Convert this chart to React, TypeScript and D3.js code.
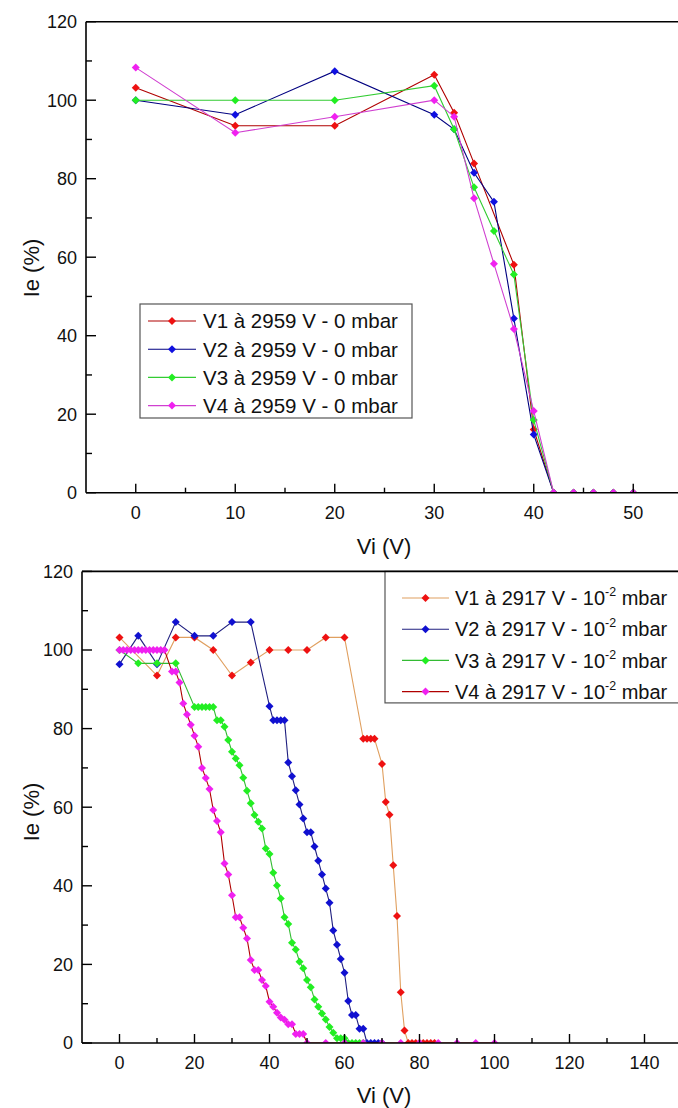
import React from "react";
import * as d3 from "d3";

type Pt = [number, number];

// ---------- Top chart data (0 mbar) ----------
const topV1: Pt[] = [[0,103.2],[10,93.5],[20,93.5],[30,106.5],[32,96.8],[34,83.9],[38,58.1],[40,16.1],[42,0],[44,0],[46,0],[48,0],[50,0]];
const topV2: Pt[] = [[0,100],[10,96.3],[20,107.4],[30,96.3],[32,92.6],[34,81.5],[36,74.1],[38,44.4],[40,14.8],[42,0],[44,0],[46,0],[48,0],[50,0]];
const topV3: Pt[] = [[0,100],[10,100],[20,100],[30,103.7],[32,92.6],[34,77.8],[36,66.7],[38,55.6],[40,18.5],[42,0],[44,0],[46,0],[48,0],[50,0]];
const topV4: Pt[] = [[0,108.3],[10,91.7],[20,95.8],[30,100],[32,95.8],[34,75],[36,58.3],[38,41.7],[40,20.8],[42,0],[44,0],[46,0],[48,0],[50,0]];
const topLabels = ["V1 à 2959 V - 0 mbar","V2 à 2959 V - 0 mbar","V3 à 2959 V - 0 mbar","V4 à 2959 V - 0 mbar"];
const topXTicks = [0,10,20,30,40,50];
const topXMinor = [-5,5,15,25,35,45];

// ---------- Bottom chart data (10^-2 mbar) ----------
const botV1: Pt[] = [[0,103.2],[10,93.5],[15,103.2],[20,103.2],[25,100],[30,93.5],[35,96.8],[40,100],[45,100],[50,100],[55,103.2],[60,103.2],[65,77.4],[66,77.4],[67,77.4],[68,77.4],[70,71],[71,61.3],[72,58.1],[73,45.2],[74,32.3],[75,12.9],[76,3.2],[77,0],[78,0],[79,0],[80,0],[81,0],[82,0],[83,0],[84,0]];
const botV2: Pt[] = [[0,96.4],[5,103.6],[10,96.4],[15,107.1],[20,103.6],[25,103.6],[30,107.1],[35,107.1],[40,85.7],[41,82.1],[42,82.1],[43,82.1],[44,82.1],[45,71.4],[46,67.9],[47,64.3],[48,60.7],[49,57.1],[50,53.6],[51,53.6],[52,50],[53,46.4],[54,42.9],[55,39.3],[56,35.7],[57,28.6],[58,25],[59,21.4],[60,17.9],[61,10.7],[62,7.1],[63,7.1],[64,3.6],[65,3.6],[66,0],[67,0],[68,0],[69,0],[70,0]];
const botV3: Pt[] = [[0,100],[5,96.6],[10,96.6],[15,96.6],[20,85.5],[21,85.5],[22,85.5],[23,85.5],[24,85.5],[25,85.5],[26,82.1],[27,82.1],[28,80.5],[29,77.1],[30,74.1],[31,72.4],[32,70.7],[33,67.5],[34,64.2],[35,61],[36,58],[37,56.3],[38,54.6],[39,49.5],[40,48.1],[41,43.3],[42,40.1],[43,36.8],[44,32],[45,30.3],[46,25.5],[47,23.8],[48,20.7],[49,19],[50,16],[51,14.2],[52,11.1],[53,9.2],[54,7.5],[55,6],[56,4.1],[57,2.6],[58,1.2],[59,1.2],[60,1.2],[61,0],[62,0],[63,0],[64,0],[65,0]];
const botV4: Pt[] = [[0,100],[1,100],[2,100],[3,100],[4,100],[5,100],[6,100],[7,100],[8,100],[9,100],[10,100],[11,100],[12,100],[14,94.5],[15,94.5],[16,91.7],[17,86.4],[18,83.6],[19,81],[20,78.2],[21,75.4],[22,70],[23,67.4],[24,64.6],[25,59.3],[26,56.5],[27,53.6],[28,45.7],[29,42.9],[30,37.6],[31,32],[32,32],[33,29.3],[34,26.6],[35,21.1],[36,18.6],[37,18.6],[38,16],[39,14.5],[40,10.5],[41,9.2],[42,7.7],[43,6.5],[44,5.9],[45,4.8],[46,4.8],[47,2.3],[48,2.3],[49,2.3],[50,0],[55,0],[60,0],[65,0],[70,0],[75,0],[80,0],[85,0],[90,0],[95,0],[100,0]];
const botLabels = ["V1 à 2917 V - 10","V2 à 2917 V - 10","V3 à 2917 V - 10","V4 à 2917 V - 10"];
const botXTicks = [0,20,40,60,80,100,120,140];
const botXMinor = [-10,10,30,50,70,90,110,130,150];

const yTicks = [0,20,40,60,80,100,120];
const yMinor = [10,30,50,70,90,110];

const FONT = "'Liberation Sans', Arial, Helvetica, sans-serif";

interface Series { data: Pt[]; line: string; marker: string; }

const diamond = d3.symbol().type(d3.symbolSquare).size(32)() as string;

interface PanelProps {
  id: string;
  xDomain: [number, number]; xRange: [number, number];
  yRange: [number, number];
  xTicks: number[]; xMinor: number[];
  series: Series[];
  labels: string[];
  sup: boolean;
  legend: { x: number; y: number; w: number; h: number; row0: number; step: number; lx1: number; lx2: number; tx: number; fs: number };
  titleY: number; yTitleY: number;
}

function Panel(p: PanelProps) {
  const x = d3.scaleLinear().domain(p.xDomain).range(p.xRange);
  const y = d3.scaleLinear().domain([0, 120]).range(p.yRange);
  const [x0, x1] = p.xRange;
  const [yb, yt] = p.yRange;
  const line = d3.line<Pt>().x(d => x(d[0])).y(d => y(d[1]));
  const clipId = "clip-" + p.id;
  const L = p.legend;
  return (
    <g>
      <defs>
        <clipPath id={clipId}>
          <rect x={x0} y={yt} width={x1 - x0} height={yb - yt} />
        </clipPath>
      </defs>
      <g clipPath={`url(#${clipId})`}>
        {p.series.map((s, i) => (
          <g key={i}>
            <path d={line(s.data) || ""} fill="none" stroke={s.line} strokeWidth={1.1} />
            {s.data.map((d, j) => (
              <path key={j} d={diamond} transform={`translate(${x(d[0])},${y(d[1])}) rotate(45)`} fill={s.marker} />
            ))}
          </g>
        ))}
      </g>
      {/* legend */}
      <rect x={L.x} y={L.y} width={L.w} height={L.h} fill="white" stroke="#555" strokeWidth={1.2} />
      {p.series.map((s, i) => {
        const ry = L.row0 + i * L.step;
        return (
          <g key={"lg" + i}>
            <line x1={L.lx1} x2={L.lx2} y1={ry} y2={ry} stroke={s.line} strokeWidth={1.1} />
            <path d={diamond} transform={`translate(${(L.lx1 + L.lx2) / 2},${ry}) rotate(45)`} fill={s.marker} />
            <text x={L.tx} y={ry} dy="0.36em" fontFamily={FONT} fontSize={L.fs} fill="#111">
              {p.labels[i]}
              {p.sup ? <tspan fontSize={L.fs * 0.62} dy={-9}>-2</tspan> : null}
              {p.sup ? <tspan dy={9}> mbar</tspan> : null}
            </text>
          </g>
        );
      })}
      {/* frame */}
      <line x1={x0} x2={x1} y1={yt} y2={yt} stroke="#000" strokeWidth={1.6} />
      <line x1={x0} x2={x0} y1={yt} y2={yb} stroke="#000" strokeWidth={1.6} />
      <line x1={x0} x2={x1} y1={yb} y2={yb} stroke="#000" strokeWidth={1.6} />
      {/* y ticks */}
      {yTicks.map(t => (
        <g key={"yt" + t}>
          <line x1={x0} x2={x0 + 10} y1={y(t)} y2={y(t)} stroke="#000" strokeWidth={1.4} />
          <text x={x0 - 9} y={y(t)} dy="0.36em" textAnchor="end" fontFamily={FONT} fontSize={18} fill="#111">{t}</text>
        </g>
      ))}
      {yMinor.map(t => (
        <line key={"ym" + t} x1={x0} x2={x0 + 6} y1={y(t)} y2={y(t)} stroke="#000" strokeWidth={1.4} />
      ))}
      {/* x ticks */}
      {p.xTicks.map(t => (
        <g key={"xt" + t}>
          <line x1={x(t)} x2={x(t)} y1={yb} y2={yb - 9} stroke="#000" strokeWidth={1.4} />
          <text x={x(t)} y={yb + 20} dy="0.36em" textAnchor="middle" fontFamily={FONT} fontSize={18} fill="#111">{t}</text>
        </g>
      ))}
      {p.xMinor.filter(t => x(t) > x0 + 1 && x(t) < 678).map(t => (
        <line key={"xm" + t} x1={x(t)} x2={x(t)} y1={yb} y2={yb - 5} stroke="#000" strokeWidth={1.4} />
      ))}
      {/* titles */}
      <text x={384} y={p.titleY} dy="0.36em" textAnchor="middle" fontFamily={FONT} fontSize={22} fill="#111">Vi (V)</text>
      <text transform={`translate(31,${p.yTitleY}) rotate(-90)`} dy="0.36em" textAnchor="middle" fontFamily={FONT} fontSize={22} fill="#111">Ie (%)</text>
    </g>
  );
}

export default function App() {
  const topSeries: Series[] = [
    { data: topV1, line: "#b00000", marker: "#ee1111" },
    { data: topV2, line: "#000080", marker: "#1010e0" },
    { data: topV3, line: "#33cc33", marker: "#22ee22" },
    { data: topV4, line: "#d040d0", marker: "#f020f0" },
  ];
  const botSeries: Series[] = [
    { data: botV1, line: "#e0a060", marker: "#ee1111" },
    { data: botV2, line: "#202080", marker: "#1010d0" },
    { data: botV3, line: "#33bb33", marker: "#22ee22" },
    { data: botV4, line: "#b00000", marker: "#f020f0" },
  ];
  return (
    <div style={{ position: "absolute", left: 0, top: 0, width: 678, height: 1108, background: "white" }}>
      <svg width={678} height={1108} style={{ display: "block" }}>
        <rect width={678} height={1108} fill="white" />
        <Panel
          id="top"
          xDomain={[-5, 55]} xRange={[86, 683]} yRange={[492.7, 21.7]}
          xTicks={topXTicks} xMinor={topXMinor}
          series={topSeries} labels={topLabels} sup={false}
          legend={{ x: 140, y: 304, w: 272, h: 114, row0: 321, step: 28.2, lx1: 148, lx2: 196, tx: 203, fs: 20.5 }}
          titleY={546} yTitleY={268}
        />
        <Panel
          id="bot"
          xDomain={[-10, 150]} xRange={[82, 682]} yRange={[1043, 571.4]}
          xTicks={botXTicks} xMinor={botXMinor}
          series={botSeries} labels={botLabels} sup={true}
          legend={{ x: 385, y: 571.4, w: 320, h: 131.5, row0: 598, step: 31.2, lx1: 402, lx2: 449, tx: 455, fs: 20 }}
          titleY={1095} yTitleY={812}
        />
      </svg>
    </div>
  );
}
